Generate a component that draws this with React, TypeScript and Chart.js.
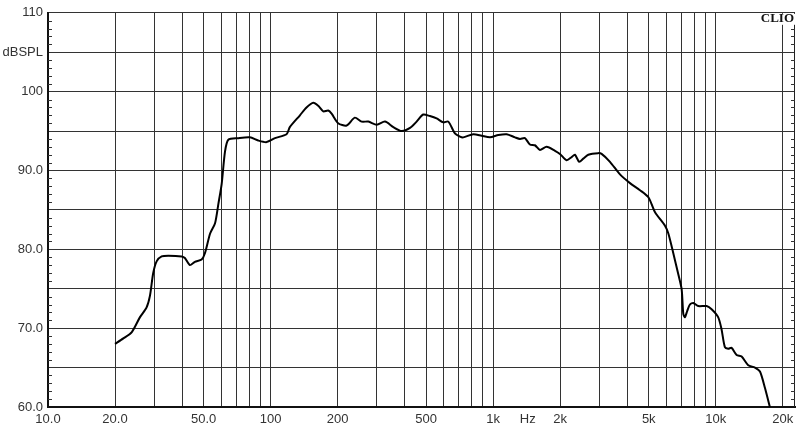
import React, { useEffect, useRef } from 'react';
import { Chart, registerables } from 'chart.js';

Chart.register(...registerables);

// Frequency response (Hz) and level (dB SPL)
const freqHz = [
  20, 21.8, 23.8, 25.9, 27.7, 28.7, 29.7, 30.8, 32.4, 34.7, 39.9, 41.2, 43.4, 45.7, 49.0, 50.7, 53.5,
  56.3, 58.3, 60.3, 62.4, 64.6, 71.6, 80.7, 88.0, 96.0, 104.7, 118, 122, 135.5, 145, 155.6, 163.8,
  172.5, 181.6, 188, 201, 219.6, 239, 256.5, 275, 300, 326.6, 356, 388, 423, 453, 485, 520, 557,
  597, 629, 673, 709, 734, 814, 888, 968, 1055, 1150, 1254, 1320, 1389, 1462, 1540, 1622, 1738,
  1896, 1995, 2138, 2252, 2329, 2436, 2540, 2675, 2965, 3070, 3348, 3714, 4118, 4567, 4982, 5337,
  5915, 6124, 6446, 6792, 7030, 7148, 7272, 7447, 7656, 7925, 8345, 9099, 9580, 10250, 10610,
  10990, 11380, 11780, 12410, 13070, 13990, 15000, 15800, 16640, 17540,
];
const splDb = [
  68.0, 68.7, 69.5, 71.4, 72.6, 74.1, 77.0, 78.5, 79.1, 79.2, 79.1, 78.9, 78.0, 78.4, 78.7, 79.5, 82.0,
  83.3, 85.8, 88.3, 92.4, 93.9, 94.1, 94.2, 93.8, 93.6, 94.1, 94.6, 95.5, 97.0, 98.0, 98.6, 98.2,
  97.5, 97.6, 97.2, 96.0, 95.7, 96.7, 96.2, 96.2, 95.8, 96.2, 95.5, 95.0, 95.4, 96.2, 97.1, 96.9, 96.6,
  96.1, 96.2, 94.7, 94.3, 94.2, 94.6, 94.4, 94.2, 94.5, 94.6, 94.2, 94.0, 94.1, 93.3, 93.2, 92.6, 93.0,
  92.5, 92.1, 91.3, 91.7, 92.0, 91.1, 91.5, 92.0, 92.2, 92.1, 91.1, 89.5, 88.4, 87.5, 86.6, 84.7,
  83.0, 82.0, 79.5, 76.8, 74.9, 71.8, 71.4, 72.2, 73.0, 73.2, 72.8, 72.8, 72.4, 71.4, 69.9,
  67.6, 67.4, 67.5, 66.6, 66.4, 65.3, 65.0, 64.5, 62.4, 59.9,
];

const xGridValues = [
  10, 20, 30, 40, 50, 60, 70, 80, 90,
  100, 200, 300, 400, 500, 600, 700, 800, 900,
  1000, 2000, 3000, 4000, 5000, 6000, 7000, 8000, 9000,
  10000, 20000,
];
const xTickLabels: Record<number, string> = {
  10: '10.0', 20: '20.0', 50: '50.0', 100: '100', 200: '200', 500: '500',
  1000: '1k', 2000: '2k', 5000: '5k', 10000: '10k', 20000: '20k',
};
const yGridValues = [60, 65, 70, 75, 80, 85, 90, 95, 100, 105, 110];
const yTickLabels: Record<number, string> = {
  110: '110', 105: 'dBSPL', 100: '100', 90: '90.0', 80: '80.0', 70: '70.0', 60: '60.0',
};
const xMin = 10;
const xMax = 22700;
const yMin = 60;
const yMax = 110;
const unitLabel = 'Hz';
const unitLabelFreq = 1430;
const brandLabel = 'CLIO';

const FONT = '"Liberation Sans", Arial, sans-serif';

const decorPlugin = {
  id: 'decor',
  afterDraw(chart: any) {
    const ctx = chart.ctx;
    const area = chart.chartArea;
    const xs = chart.scales.x;
    const ys = chart.scales.y;
    ctx.save();
    // right border
    ctx.strokeStyle = '#222';
    ctx.lineWidth = 1;
    ctx.beginPath();
    ctx.moveTo(area.right - 0.5, area.top);
    ctx.lineTo(area.right - 0.5, area.bottom);
    ctx.stroke();
    // minor ticks every 1 dB on left and right
    ctx.strokeStyle = '#333';
    for (let v = yMin + 1; v < yMax; v++) {
      if (v % 5 === 0) continue;
      const y = Math.round(ys.getPixelForValue(v)) + 0.5;
      ctx.beginPath();
      ctx.moveTo(area.left, y);
      ctx.lineTo(area.left + 4, y);
      ctx.moveTo(area.right, y);
      ctx.lineTo(area.right - 4, y);
      ctx.stroke();
    }
    // Hz unit label
    ctx.fillStyle = '#333';
    ctx.font = `13px ${FONT}`;
    ctx.textAlign = 'center';
    ctx.textBaseline = 'middle';
    ctx.fillText(unitLabel, xs.getPixelForValue(unitLabelFreq), area.bottom + 12);
    // CLIO brand
    ctx.font = `bold 13px "Liberation Serif", "DejaVu Serif", serif`;
    const w = ctx.measureText(brandLabel).width;
    ctx.fillStyle = '#fff';
    ctx.fillRect(area.right - w - 1, area.top + 1, w + 3, 11);
    ctx.fillStyle = '#111';
    ctx.textAlign = 'right';
    ctx.textBaseline = 'middle';
    ctx.fillText(brandLabel, area.right - 1, area.top + 6);
    ctx.restore();
  },
};

export default function App() {
  const ref = useRef<HTMLCanvasElement | null>(null);

  useEffect(() => {
    document.body.style.margin = '0';
    const canvas = ref.current;
    if (!canvas) return;
    const points = freqHz.map((f, i) => ({ x: f, y: splDb[i] }));
    const chart = new Chart(canvas, {
      type: 'line',
      data: {
        datasets: [
          {
            data: points,
            borderColor: '#000',
            borderWidth: 2,
            pointRadius: 0,
            fill: false,
            tension: 0.25,
          },
        ],
      },
      options: {
        animation: false,
        responsive: false,
        maintainAspectRatio: false,
        layout: { padding: { top: 6, right: 5, left: 0, bottom: 0 } },
        plugins: { legend: { display: false }, tooltip: { enabled: false } },
        scales: {
          x: {
            type: 'logarithmic',
            min: xMin,
            max: xMax,
            afterBuildTicks: (scale: any) => {
              scale.ticks = xGridValues.map((v) => ({ value: v }));
            },
            afterFit: (scale: any) => {
              scale.height = 21;
            },
            grid: { color: '#333', lineWidth: 1, drawTicks: false },
            border: { display: true, color: '#111', width: 2 },
            ticks: {
              autoSkip: false,
              maxRotation: 0,
              padding: 5,
              color: '#333',
              font: { family: FONT, size: 13 },
              callback: (v: any) => xTickLabels[Number(v)] ?? '',
            },
          },
          y: {
            type: 'linear',
            min: yMin,
            max: yMax,
            afterBuildTicks: (scale: any) => {
              scale.ticks = yGridValues.map((v) => ({ value: v }));
            },
            afterFit: (scale: any) => {
              scale.width = 48;
            },
            grid: { color: '#333', lineWidth: 1, drawTicks: false },
            border: { display: true, color: '#111', width: 2 },
            ticks: {
              autoSkip: false,
              padding: 5,
              color: '#333',
              font: { family: FONT, size: 13 },
              callback: (v: any) => yTickLabels[Number(v)] ?? '',
            },
          },
        },
      },
      plugins: [decorPlugin],
    });
    return () => chart.destroy();
  }, []);

  return <canvas ref={ref} width={800} height={428} style={{ display: 'block' }} />;
}
